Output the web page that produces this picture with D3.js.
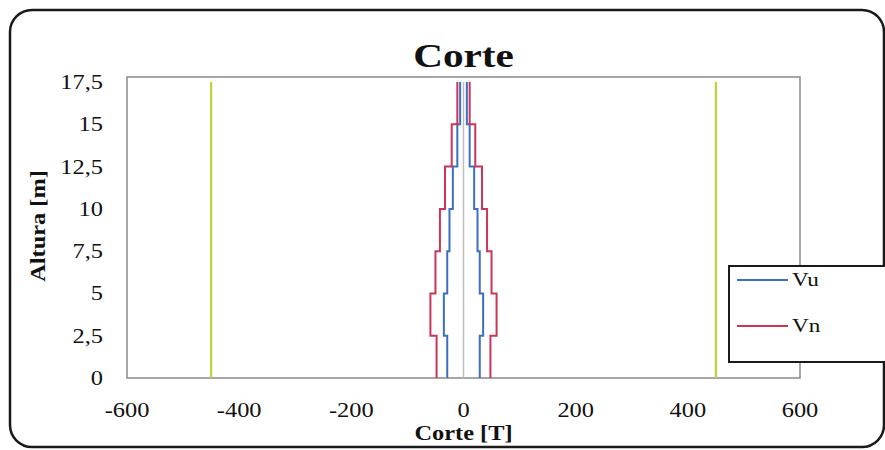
<!DOCTYPE html>
<html>
<head>
<meta charset="utf-8">
<script src="https://cdn.jsdelivr.net/npm/d3@7"></script>
<style>
  html, body { margin: 0; padding: 0; background: #fff; }
  svg { display: block; }
  text { font-family: "Liberation Serif", "Times New Roman", serif; fill: #111; }
</style>
</head>
<body>
<svg id="chart" width="885" height="450"></svg>
<script>
// Storey heights [m] (step boundaries)
const heights = [0, 2.5, 5, 7.5, 10, 12.5, 15, 17.5];
// Shear per storey [T]
const vu = [29, 35, 29, 25, 19, 11, 6];
const vn = [48, 59, 50, 42, 33, 21, 11];
// Shear capacity limit [T]
const limit = 450;
// Axis ticks
const xTicks = [-600, -400, -200, 0, 200, 400, 600];
const yTicks = [0, 2.5, 5, 7.5, 10, 12.5, 15, 17.5];

const svg = d3.select("#chart");
const x = d3.scaleLinear().domain([-600, 600]).range([127, 800]);
const y = d3.scaleLinear().domain([0, 17.8]).range([378, 77]);
const fmt = v => String(v).replace(".", ",");
const SX = 1.22; // glyph widening along the text direction

function label(txt, px, py, opts = {}) {
  const t = svg.append("text")
    .attr("transform", `translate(${px},${py}) rotate(${opts.rot || 0}) scale(${opts.sx || SX},1)`)
    .attr("text-anchor", opts.anchor || "middle")
    .style("font-size", (opts.size || 20) + "px")
    .style("font-weight", opts.bold ? "bold" : "normal")
    .text(txt);
  return t;
}

// Outer frame
svg.append("rect")
  .attr("x", 10).attr("y", 10).attr("width", 874).attr("height", 437)
  .attr("rx", 22).attr("ry", 22)
  .attr("fill", "#fff").attr("stroke", "#1a1a1a").attr("stroke-width", 2.5);

// Plot area border
svg.append("rect")
  .attr("x", x(-600)).attr("y", y.range()[1])
  .attr("width", x(600) - x(-600)).attr("height", y.range()[0] - y.range()[1])
  .attr("fill", "none").attr("stroke", "#8a8a8a").attr("stroke-width", 1.5);

// Vertical axis line at zero shear
svg.append("line")
  .attr("x1", x(0)).attr("x2", x(0))
  .attr("y1", y(0)).attr("y2", y(17.5))
  .attr("stroke", "#bdbdbd").attr("stroke-width", 1.5);

// Capacity limits
[-limit, limit].forEach(v => {
  svg.append("line")
    .attr("x1", x(v)).attr("x2", x(v))
    .attr("y1", y(0)).attr("y2", y(17.5))
    .attr("stroke", "#bcd43a").attr("stroke-width", 2.2);
});

// Stepped shear envelopes, drawn on both sides of the axis
function steps(vals, sign) {
  const pts = [];
  vals.forEach((v, i) => {
    pts.push([sign * v, heights[i]]);
    pts.push([sign * v, heights[i + 1]]);
  });
  return pts;
}
const line = d3.line().x(d => x(d[0])).y(d => y(d[1]));
const series = [
  { name: "Vu", vals: vu, color: "#3b6fc4" },
  { name: "Vn", vals: vn, color: "#cc3558" }
];
series.forEach(s => {
  [-1, 1].forEach(sign => {
    svg.append("path")
      .attr("d", line(steps(s.vals, sign)))
      .attr("fill", "none")
      .attr("stroke", s.color)
      .attr("stroke-width", 2);
  });
});

// Tick labels
xTicks.forEach(t => label(fmt(t), x(t), 417, { size: 20 }));
yTicks.forEach(t => label(fmt(t), 103, y(t) + 7, { size: 20, anchor: "end" }));

// Titles
label("Corte", x(0), 67, { size: 33, bold: true, sx: 1.25 });
label("Corte [T]", x(0), 440, { size: 20, bold: true });
label("Altura [m]", 45, 226, { size: 20, bold: true, rot: -90 });

// Legend
svg.append("rect")
  .attr("x", 729).attr("y", 266).attr("width", 170).attr("height", 96)
  .attr("fill", "#fff").attr("stroke", "#1a1a1a").attr("stroke-width", 2);
const legendY = [280, 326];
series.forEach((s, i) => {
  svg.append("line")
    .attr("x1", 737).attr("x2", 788)
    .attr("y1", legendY[i]).attr("y2", legendY[i])
    .attr("stroke", s.color).attr("stroke-width", 2);
  label(s.name, 792, legendY[i] + 6, { size: 19, anchor: "start" });
});
</script>
</body>
</html>
